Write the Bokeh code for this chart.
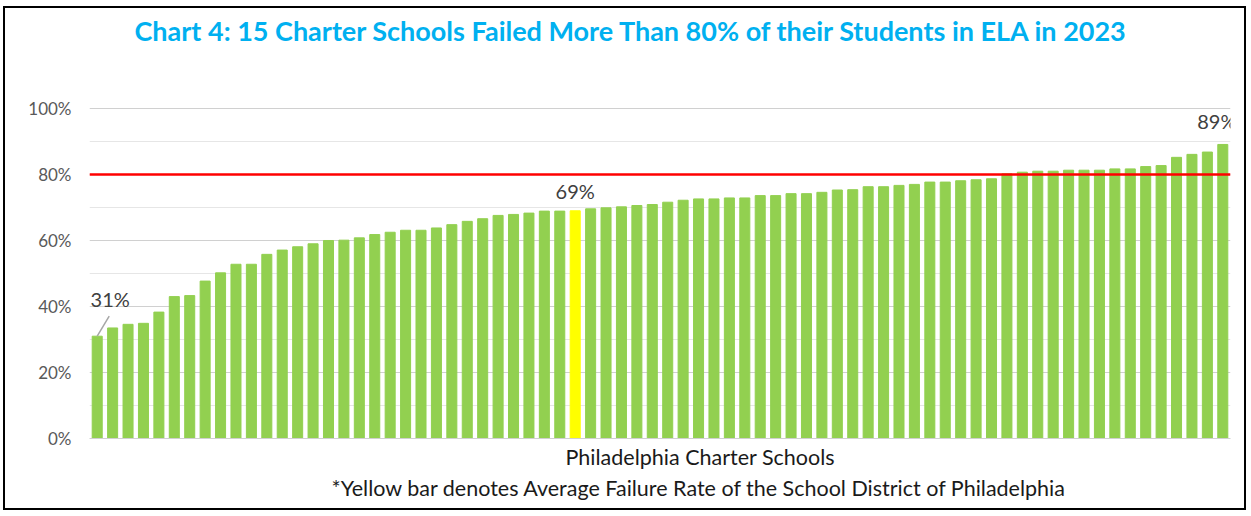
from bokeh.plotting import figure
from bokeh.models import ColumnDataSource, Range1d, Span, Title, FixedTicker, CustomJSTickFormatter
from bokeh.core.properties import value
from bokeh.embed import file_html
from bokeh.resources import INLINE

# ---- data (failure rate in ELA 2023, %, sorted) ----
failure_rates = [
    31.0, 33.5, 34.6, 34.9, 38.3, 43.0, 43.3, 47.7, 50.2, 52.8,
    52.8, 55.8, 57.1, 58.1, 59.0, 60.0, 60.1, 60.8, 61.8, 62.5,
    63.1, 63.1, 63.8, 64.8, 65.8, 66.6, 67.6, 67.9, 68.3, 68.9,
    68.9, 69.0, 69.6, 69.9, 70.2, 70.6, 70.9, 71.6, 72.2, 72.6,
    72.6, 72.9, 72.9, 73.6, 73.6, 74.2, 74.2, 74.6, 75.3, 75.4,
    76.3, 76.3, 76.7, 77.0, 77.7, 77.7, 78.1, 78.4, 78.7, 80.2,
    80.7, 81.0, 81.0, 81.3, 81.3, 81.3, 81.7, 81.7, 82.4, 82.7,
    85.2, 86.1, 86.8, 89.1,
]
district_position = 31          # the School District of Philadelphia average bar
threshold = 80
y_ticks = [0, 20, 40, 60, 80, 100]
y_minor = [10, 30, 50, 70, 90]
title_text = "Chart 4: 15 Charter Schools Failed More Than 80% of their Students in ELA in 2023"
x_title = "Philadelphia Charter Schools"
note_text = "*Yellow bar denotes Average Failure Rate of the School District of Philadelphia"

GREEN = "#92D050"
YELLOW = "#FFFF00"
n = len(failure_rates)
xs = list(range(n))
colors = [YELLOW if i == district_position else GREEN for i in xs]
src = ColumnDataSource(dict(x=xs, top=failure_rates, color=colors))

W, H = 1243, 504
BL, BR, BT, BB = 84, 18, 99, 74
frame_w = W - BL - BR
frame_h = H - BT - BB

p = figure(width=W, height=H, output_backend="svg", toolbar_location=None,
           x_range=Range1d(-0.5, n - 0.5), y_range=Range1d(0, 100.3),
           min_border_left=BL, min_border_right=BR, min_border_top=BT, min_border_bottom=BB)
p.outline_line_color = None
p.background_fill_color = "white"
p.border_fill_color = "white"
p.styles = {"border": "2px solid black", "margin-left": "3px", "margin-top": "6px"}

p.vbar(x="x", top="top", width=0.65, color="color", source=src)

# grid
p.xgrid.visible = False
p.ygrid.ticker = FixedTicker(ticks=y_ticks, minor_ticks=y_minor)
p.ygrid.grid_line_color = "#D0D0D0"
p.ygrid.grid_line_width = 1
p.ygrid.minor_grid_line_color = "#E6E6E6"
p.ygrid.minor_grid_line_width = 1

# axes
p.yaxis.ticker = FixedTicker(ticks=y_ticks)
p.yaxis.formatter = CustomJSTickFormatter(code="return tick + '%';")
p.yaxis.axis_line_color = None
p.yaxis.major_tick_line_color = None
p.yaxis.minor_tick_line_color = None
p.yaxis.major_label_standoff = 12
p.yaxis.major_label_text_font = "Lato"
p.yaxis.major_label_text_font_size = "17px"
p.yaxis.major_label_text_color = "#595959"

p.xaxis.major_label_text_font_size = "0px"
p.xaxis.major_tick_line_color = None
p.xaxis.minor_tick_line_color = None
p.xaxis.major_tick_out = 8
p.xaxis.axis_line_color = "#D0D0D0"
p.xaxis.ticker = FixedTicker(ticks=[])
p.xaxis.major_label_standoff = 0

# threshold line
p.add_layout(Span(location=threshold, dimension="width", line_color="#FF0000", line_width=2.5))

# data labels
xu = frame_w / n      # px per bar
yu = frame_h / 100.3  # px per percent
first, last = 0, n - 1
p.segment(x0=[first], y0=[failure_rates[first]],
          x1=[first + 12 / xu], y1=[failure_rates[first] + 20 / yu],
          line_color="#A6A6A6", line_width=1.5)
lab_style = dict(text_font=value("Lato"), text_font_size="20px", text_color="#404040",
                 text_align="center", text_baseline="middle")
p.text(x=[first], y=[failure_rates[first]], text=[f"{round(failure_rates[first])}%"],
       x_offset=13, y_offset=-37, **lab_style)
p.text(x=[district_position], y=[failure_rates[district_position]],
       text=[f"{round(failure_rates[district_position])}%"], y_offset=-20, **lab_style)
p.text(x=[last], y=[failure_rates[last]], text=[f"{round(failure_rates[last])}%"],
       x_offset=-6, y_offset=-23, **lab_style)

# main title (outermost) + spacer between it and the plot area
p.title.text = title_text
p.title.align = "left"
p.title.offset = 45
p.title.text_font = "Lato"
p.title.text_font_style = "bold"
p.title.text_font_size = "27px"
p.title.text_color = "#00B0F0"
p.title.standoff = 4
p.add_layout(Title(text=" ", text_font_size="10px", standoff=46), "above")

# axis title and note below
p.add_layout(Title(text=x_title, align="left", offset=476, text_font="Lato",
                   text_font_style="normal", text_font_size="21.5px", text_color="#1A1A1A",
                   standoff=6), "below")
p.add_layout(Title(text=note_text, align="left", offset=242, text_font="Lato",
                   text_font_style="normal", text_font_size="21.5px", text_color="#1A1A1A",
                   standoff=0), "below")

open("out.html", "w").write(file_html(p, INLINE))
